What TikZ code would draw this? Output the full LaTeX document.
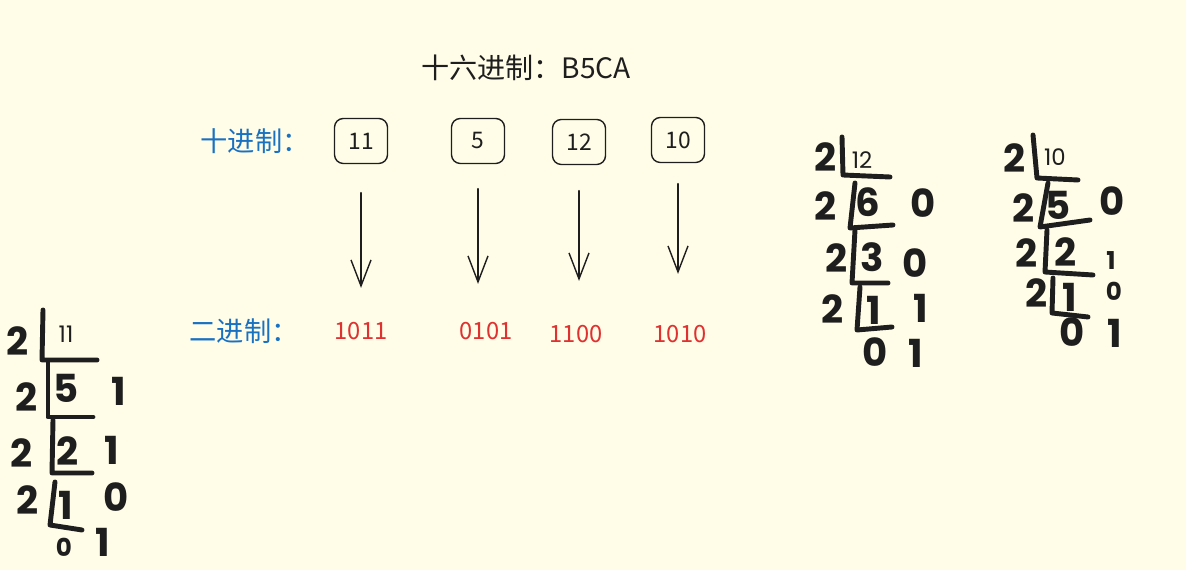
\documentclass[tikz,border=0pt]{standalone}
\usepackage{fontspec}
\usepackage{tikz}
\usetikzlibrary{arrows.meta}
\newfontfamily\cjk{Noto Sans CJK SC}
\newfontfamily\handfont{Poppins}
\definecolor{paper}{HTML}{FFFDE8}
\definecolor{ink}{HTML}{1E1E1E}
\definecolor{decblue}{HTML}{1971C2}
\definecolor{binred}{HTML}{E03131}
\begin{document}
\begin{tikzpicture}[x=0.02cm,y=-0.02cm,line cap=round,line join=round,
  title/.style={font=\cjk\fontsize{16}{16}\selectfont,text=ink,inner sep=0},
  rowlbl/.style={font=\cjk\fontsize{15.5}{15.5}\selectfont,text=decblue,inner sep=0},
  numbox/.style={draw=ink,line width=.8pt,rounded corners=5pt,minimum width=1.06cm,
    minimum height=.9cm,font=\cjk\fontsize{13}{13}\selectfont,text=ink},
  bin/.style={font=\cjk\fontsize{13.5}{13.5}\selectfont,text=binred,inner sep=0},
  arr/.style={draw=ink,line width=.8pt,-{Straight Barb[length=.52cm,width=.4cm]}},
  pen/.style={draw=ink,line width=2.8pt},
  hand/.style={font=\handfont\bfseries\fontsize{22}{22}\selectfont,text=ink,inner sep=0},
  handsm/.style={font=\handfont\bfseries\fontsize{14}{14}\selectfont,text=ink,inner sep=0},
  thin/.style={font=\handfont\fontsize{13}{13}\selectfont,text=ink,inner sep=0}]
  \fill[paper] (0,0) rectangle (1186,570);
  \useasboundingbox (0,0) rectangle (1186,570);
  \node[title] (hex) at (526,68) {十六进制：B5CA};
  \node[rowlbl] (declbl) at (255,141) {十进制：};
  \node[rowlbl] (binlbl) at (244,331) {二进制：};
  \foreach \n/\x/\y/\v/\b/\bx/\by/\s/\e in
   {1/361/141/11/1011/361/331/.57/.68,2/478/141/5/0101/486/331/.49/.76,
    3/579/142/12/1100/576/334/.51/.88,4/678/140/10/1010/680/334/.41/1.02}{
    \node[numbox] (b\n) at (\x,\y) {\v};
    \node[bin] (r\n) at (\bx,\by) {\b};
    \draw[arr,shorten <=\s cm,shorten >=\e cm] (b\n.south) -- (b\n.south |- r\n.north);
  }
  % division by 2 of 11
  \node[thin] (q11) at (66,334) {11};
  \foreach \x/\y/\t [count=\i] in
   {18/341/2,27/397/2,66/388/5,119/391/1,22/453/2,68/451/2,
    112/450/1,28/500/2,116/497/0,66/505/1,103/542/1}
    \node[hand] (l\i) at (\x,\y) {\t};
  \node[handsm] (lz) at (64,547) {0};
  \draw[pen] (43,310) -- (42,360) -- (97,360);
  \draw[pen] (48,363) -- (48,417) -- (93,417);
  \draw[pen] (53,420) -- (52,473) -- (92,473);
  \draw[pen] (55,482) -- (50,525) -- (82,530);
  % division by 2 of 12
  \node[thin] (q12) at (862,160) {12};
  \foreach \x/\y/\t [count=\i] in
   {826/157/2,826/206/2,868/202/6,923/203/0,837/258/2,872/257/3,
    915/263/0,833/309/2,874/310/1,921/308/1,875/352/0,916/353/1}
    \node[hand] (m\i) at (\x,\y) {\t};
  \draw[pen] (842,137) -- (843,175) -- (890,177);
  \draw[pen] (855,183) -- (850,228) -- (893,225);
  \draw[pen] (855,230) -- (852,283) -- (888,283);
  \draw[pen] (860,287) -- (857,330) -- (892,327);
  % division by 2 of 10
  \node[thin] (q10) at (1055,157) {10};
  \foreach \x/\y/\t [count=\i] in
   {1015/158/2,1024/208/2,1058/205/5,1112/201/0,1027/253/2,1066/252/2,
    1037/293/2,1070/297/1,1072/332/0,1115/333/1}
    \node[hand] (n\i) at (\x,\y) {\t};
  \node[handsm] (ns1) at (1111,261) {1};
  \node[handsm] (ns2) at (1114,291) {0};
  \draw[pen] (1033,135) -- (1037,178) -- (1078,180);
  \draw[pen] (1048,183) -- (1040,227) -- (1090,220);
  \draw[pen] (1047,230) -- (1045,272) -- (1093,275);
  \draw[pen] (1053,278) -- (1052,313) -- (1088,317);
\end{tikzpicture}
\end{document}
